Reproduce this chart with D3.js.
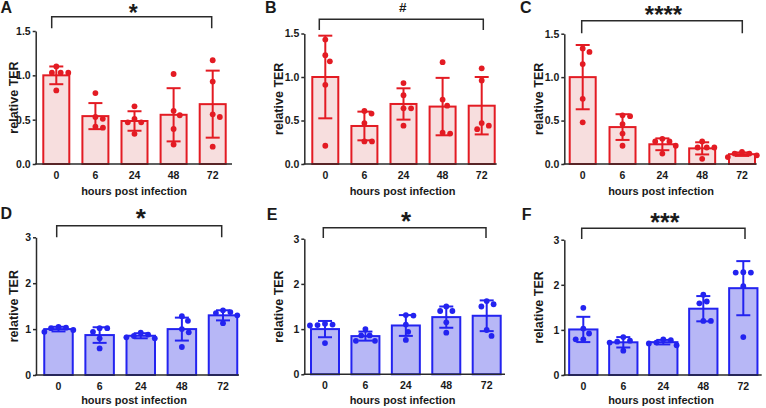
<!DOCTYPE html>
<html><head><meta charset="utf-8">
<script src="https://cdn.jsdelivr.net/npm/d3@7"></script>
<style>
html,body{margin:0;padding:0;background:#fff;}
svg{display:block;font-family:"Liberation Sans",Arial,Helvetica,sans-serif;}
</style></head><body>
<svg id="chart" width="766" height="408"></svg>
<script>
// ---------- data ----------
const categories = ["0", "6", "24", "48", "72"];
const panelLetters = ["A", "B", "C", "D", "E", "F"];
const significance = ["*", "#", "****", "*", "*", "***"];
const yTicksTop = [0, 0.5, 1.0, 1.5];
const yTicksBottom = [0, 1, 2, 3];
const xAxisTitle = "hours post infection";
const yAxisTitle = "relative TER";

const meanA = [1.00, 0.54, 0.485, 0.555, 0.675];
const sdA   = [0.10, 0.147, 0.11, 0.30, 0.378];
const ptsA  = [[1.10, 1.03, 1.03, 1.03, 0.83], [0.80, 0.51, 0.53, 0.41, 0.42], [0.65, 0.51, 0.47, 0.47, 0.34], [1.015, 0.60, 0.55, 0.395, 0.22], [1.17, 0.93, 0.56, 0.53, 0.195]];

const meanB = [1.00, 0.437, 0.69, 0.66, 0.67];
const sdB   = [0.475, 0.165, 0.18, 0.33, 0.33];
const ptsB  = [[1.43, 1.25, 1.18, 0.91, 0.21], [0.58, 0.61, 0.47, 0.26, 0.26], [0.93, 0.79, 0.64, 0.64, 0.44], [1.17, 0.74, 0.67, 0.36, 0.35], [1.10, 0.96, 0.47, 0.40, 0.44]];

const meanC = [1.00, 0.425, 0.227, 0.18, 0.113];
const sdC   = [0.37, 0.148, 0.068, 0.07, 0.02];
const ptsC  = [[1.33, 1.29, 1.15, 0.75, 0.48], [0.56, 0.55, 0.46, 0.35, 0.21], [0.29, 0.26, 0.26, 0.21, 0.12], [0.26, 0.19, 0.19, 0.19, 0.06], [0.14, 0.12, 0.12, 0.10, 0.08]];

const meanD = [1.00, 0.87, 0.855, 1.00, 1.30];
const sdD   = [0.05, 0.17, 0.055, 0.25, 0.11];
const ptsD  = [[1.05, 1.02, 0.94, 0.98, 1.03], [1.02, 1.02, 0.94, 0.80, 0.58], [0.92, 0.88, 0.85, 0.80, 0.82], [1.28, 1.18, 1.00, 0.93, 0.61], [1.41, 1.37, 1.35, 1.30, 1.13]];

const meanE = [1.00, 0.845, 1.08, 1.265, 1.295];
const sdE   = [0.18, 0.10, 0.23, 0.235, 0.34];
const ptsE  = [[1.10, 1.12, 1.08, 1.09, 0.69], [1.00, 0.86, 0.86, 0.74, 0.74], [1.31, 1.30, 1.10, 0.94, 0.76], [1.50, 1.40, 1.40, 1.15, 0.92], [1.62, 1.55, 1.50, 0.98, 0.85]];

const meanF = [1.01, 0.725, 0.728, 1.47, 1.925];
const sdF   = [0.28, 0.115, 0.05, 0.28, 0.60];
const ptsF  = [[1.49, 1.03, 0.92, 0.79, 0.79], [0.84, 0.76, 0.74, 0.72, 0.54], [0.79, 0.77, 0.72, 0.70, 0.66], [1.78, 1.63, 1.59, 1.20, 1.20], [2.28, 2.27, 2.27, 1.97, 0.84]];

// ---------- layout / style ----------
const red  = {stroke: "#e31b23", fill: "#f7dede"};
const blue = {stroke: "#2323f0", fill: "#b7b7f6"};
const colCenters = [134, 402.5, 661];
const yTitleX = [18.3, 283.3, 543.3];

const layout = [
  {x0: 35.7,  x1: 232,   yTop: 31,    yBot: 164,   c0: 56.3,  c4: 212.7, bw: 26,   brL: 51.7,  brR: 211.7, brTop: 16.7,  brBot: 28.3,  lx: 0.5,   ly: 13.3,  xlY: 194.5, col: 0, sigFs: 23, sigY: 21},
  {x0: 304.3, x1: 496.7, yTop: 33.5,  yBot: 164,   c0: 325.3, c4: 481.7, bw: 26,   brL: 319.3, brR: 483.3, brTop: 19.3,  brBot: 30,    lx: 265,   ly: 13.3,  xlY: 194.5, col: 1, sigFs: 13.5, sigY: 12},
  {x0: 564.3, x1: 756.7, yTop: 33.7,  yBot: 164,   c0: 582.7, c4: 742,   bw: 26,   brL: 581.7, brR: 742.3, brTop: 20.7,  brBot: 33.3,  lx: 520,   ly: 13.3,  xlY: 194.5, col: 2, sigFs: 24, sigY: 22.5},
  {x0: 36,    x1: 239,   yTop: 237.3, yBot: 375,   c0: 58.5,  c4: 223,   bw: 28.5, brL: 56.7,  brR: 221.7, brTop: 225.7, brBot: 237.3, lx: 0.5,   ly: 218.5, xlY: 404,   col: 0, sigFs: 26, sigY: 227.2},
  {x0: 304.3, x1: 505,   yTop: 238.7, yBot: 374.3, c0: 325,   c4: 486.7, bw: 28,   brL: 323.3, brR: 486,   brTop: 227.7, brBot: 238,   lx: 266.7, ly: 220,   xlY: 404,   col: 1, sigFs: 26, sigY: 230},
  {x0: 564.3, x1: 761.7, yTop: 239.7, yBot: 375,   c0: 583.3, c4: 743.3, bw: 28.3, brL: 581.7, brR: 745,   brTop: 228.3, brBot: 239,   lx: 521.7, ly: 220,   xlY: 404,   col: 2, sigFs: 25, sigY: 230.5}
];

const panelData = [
  {means: meanA, sds: sdA, pts: ptsA, ticks: yTicksTop,    fmt: d3.format(".1f"), color: red},
  {means: meanB, sds: sdB, pts: ptsB, ticks: yTicksTop,    fmt: d3.format(".1f"), color: red},
  {means: meanC, sds: sdC, pts: ptsC, ticks: yTicksTop,    fmt: d3.format(".1f"), color: red},
  {means: meanD, sds: sdD, pts: ptsD, ticks: yTicksBottom, fmt: d3.format("d"),   color: blue},
  {means: meanE, sds: sdE, pts: ptsE, ticks: yTicksBottom, fmt: d3.format("d"),   color: blue},
  {means: meanF, sds: sdF, pts: ptsF, ticks: yTicksBottom, fmt: d3.format("d"),   color: blue}
];

const DOT_R = 2.9;
const SWARM_D = 7.6;
const CAP = 7;
const textColor = "#1a1a1a";
const axisColor = "#2a2a2a";

function swarm(vals, y, D) {
  const order = vals.map((v, i) => i).sort((a, b) => vals[b] - vals[a]);
  const placed = [];
  const out = new Array(vals.length);
  for (const i of order) {
    const py = y(vals[i]);
    const cands = [0];
    for (const p of placed) {
      const dy = py - p.y;
      if (Math.abs(dy) < D) {
        const dx = Math.sqrt(D * D - dy * dy);
        cands.push(p.x + dx, p.x - dx);
      }
    }
    cands.sort((a, b) => Math.abs(a) - Math.abs(b));
    let chosen = 0;
    for (const c of cands) {
      if (placed.every(p => (c - p.x) ** 2 + (py - p.y) ** 2 >= D * D - 0.01)) { chosen = c; break; }
    }
    placed.push({x: chosen, y: py});
    out[i] = chosen;
  }
  return out;
}

const svg = d3.select("#chart");

panelData.forEach((pd, k) => {
  const L = layout[k];
  const g = svg.append("g");
  const y = d3.scaleLinear().domain([0, d3.max(pd.ticks)]).range([L.yBot, L.yTop]);
  const x = d3.scalePoint().domain(categories).range([L.c0, L.c4]);

  const rows = categories.map((c, i) => ({c, mean: pd.means[i], sd: pd.sds[i], pts: pd.pts[i]}));

  // bars
  g.selectAll("rect.bar").data(rows).join("rect")
    .attr("class", "bar")
    .attr("x", d => x(d.c) - L.bw / 2)
    .attr("y", d => y(d.mean))
    .attr("width", L.bw)
    .attr("height", d => y(0) - y(d.mean))
    .attr("fill", pd.color.fill)
    .attr("stroke", pd.color.stroke)
    .attr("stroke-width", 2);

  // error bars
  const eb = g.selectAll("g.eb").data(rows).join("g").attr("class", "eb")
    .attr("stroke", pd.color.stroke).attr("stroke-width", 2).attr("fill", "none");
  eb.append("line")
    .attr("x1", d => x(d.c)).attr("x2", d => x(d.c))
    .attr("y1", d => y(Math.max(0, d.mean - d.sd))).attr("y2", d => y(d.mean + d.sd));
  eb.append("line")
    .attr("x1", d => x(d.c) - CAP).attr("x2", d => x(d.c) + CAP)
    .attr("y1", d => y(d.mean + d.sd)).attr("y2", d => y(d.mean + d.sd));
  eb.append("line")
    .attr("x1", d => x(d.c) - CAP).attr("x2", d => x(d.c) + CAP)
    .attr("y1", d => y(Math.max(0, d.mean - d.sd))).attr("y2", d => y(Math.max(0, d.mean - d.sd)));

  // dots
  rows.forEach(r => {
    const offs = swarm(r.pts, y, SWARM_D);
    g.selectAll(null).data(r.pts).join("circle")
      .attr("cx", (v, i) => x(r.c) + offs[i])
      .attr("cy", v => y(v))
      .attr("r", DOT_R)
      .attr("fill", pd.color.stroke);
  });

  // y axis
  const ya = g.append("g").attr("transform", `translate(${L.x0},0)`)
    .call(d3.axisLeft(y).tickValues(pd.ticks).tickFormat(pd.fmt).tickSize(3).tickPadding(2).tickSizeOuter(0));
  ya.select(".domain").attr("stroke", axisColor).attr("stroke-width", 1.5);
  ya.selectAll(".tick line").attr("stroke", axisColor).attr("stroke-width", 1.5);
  ya.selectAll(".tick text").attr("fill", textColor).attr("font-size", "10.5px").attr("font-weight", "bold")
    .attr("font-family", "Liberation Sans, Arial, sans-serif");

  // x axis
  g.append("line").attr("x1", L.x0 - 0.75).attr("x2", L.x1).attr("y1", L.yBot).attr("y2", L.yBot)
    .attr("stroke", axisColor).attr("stroke-width", 1.5);
  g.selectAll("text.xt").data(categories).join("text")
    .attr("class", "xt")
    .attr("x", d => x(d)).attr("y", L.yBot + 14.5)
    .attr("text-anchor", "middle").attr("font-size", "10.5px").attr("font-weight", "bold")
    .attr("fill", textColor).text(d => d);

  // axis titles
  g.append("text").attr("x", colCenters[L.col]).attr("y", L.xlY)
    .attr("text-anchor", "middle").attr("font-size", "11px").attr("font-weight", "bold")
    .attr("fill", textColor).text(xAxisTitle);
  const ymid = (L.yTop + L.yBot) / 2;
  g.append("text").attr("transform", `translate(${yTitleX[L.col]},${ymid}) rotate(-90)`)
    .attr("text-anchor", "middle").attr("font-size", "12.5px").attr("font-weight", "bold")
    .attr("fill", textColor).text(yAxisTitle);

  // significance bracket
  g.append("path")
    .attr("d", `M${L.brL},${L.brBot}V${L.brTop}H${L.brR}V${L.brBot}`)
    .attr("fill", "none").attr("stroke", axisColor).attr("stroke-width", 1.5);
  g.append("text").attr("x", (L.brL + L.brR) / 2 + 1.5)
    .attr("y", L.sigY)
    .attr("text-anchor", "middle")
    .attr("font-size", L.sigFs + "px").attr("font-weight", "bold")
    .attr("fill", textColor).text(significance[k]);

  // panel letter
  g.append("text").attr("x", L.lx).attr("y", L.ly)
    .attr("font-size", "16px").attr("font-weight", "bold").attr("fill", textColor)
    .text(panelLetters[k]);
});
</script>
</body></html>
